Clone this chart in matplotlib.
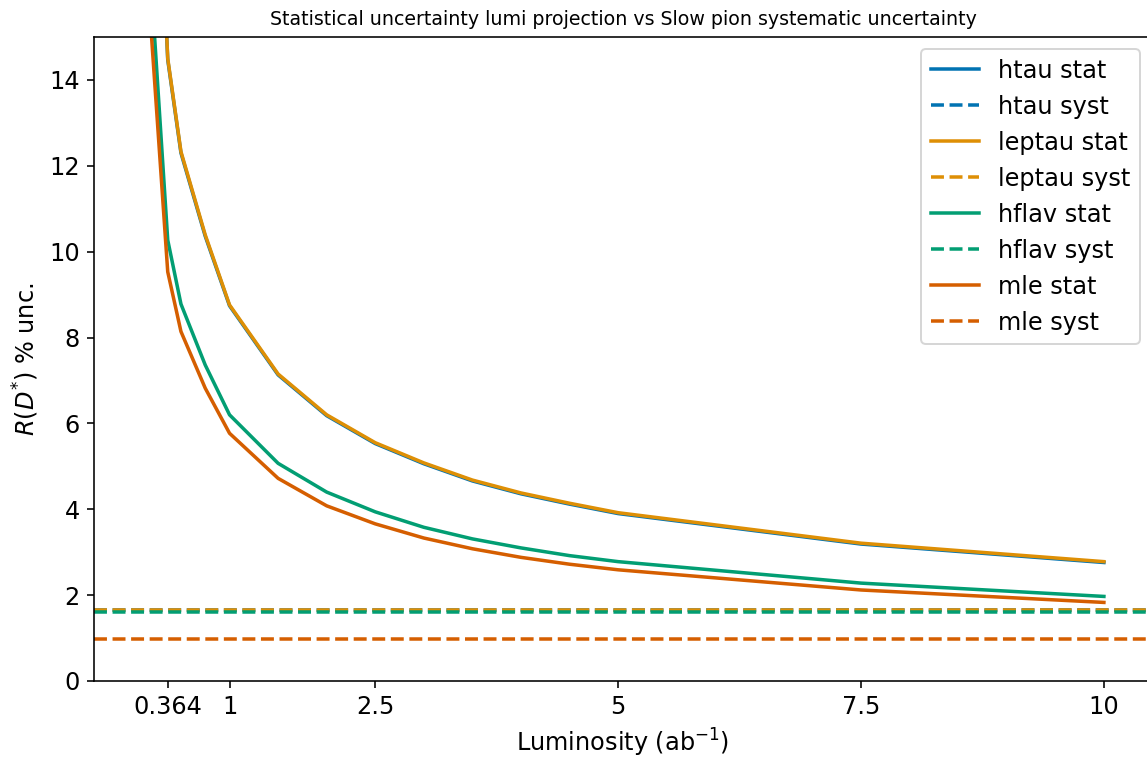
import matplotlib
matplotlib.use("Agg")
import matplotlib.pyplot as plt

# Integrated luminosity points (ab^-1)
lumi = [0.1, 0.364, 0.5, 0.75, 1, 1.5, 2, 2.5, 3, 3.5, 4, 4.5, 5, 7.5, 10]

# Statistical uncertainty on R(D*) in percent for each analysis
htau_stat = [27.6, 14.47, 12.30, 10.36, 8.74, 7.13, 6.18, 5.53, 5.06, 4.66, 4.36, 4.12, 3.90, 3.19, 2.76]
leptau_stat = [27.7, 14.50, 12.33, 10.39, 8.76, 7.15, 6.20, 5.55, 5.08, 4.68, 4.38, 4.14, 3.92, 3.21, 2.78]
hflav_stat = [19.5, 10.27, 8.78, 7.36, 6.20, 5.07, 4.40, 3.94, 3.58, 3.31, 3.10, 2.92, 2.78, 2.28, 1.97]
mle_stat = [18.2, 9.53, 8.14, 6.82, 5.77, 4.72, 4.08, 3.66, 3.33, 3.08, 2.88, 2.72, 2.59, 2.12, 1.83]

# Slow pion systematic uncertainty in percent
htau_syst = 1.66
leptau_syst = 1.66
hflav_syst = 1.60
mle_syst = 0.97

xtick_vals = [0.364, 1, 2.5, 5, 7.5, 10]
xtick_labels = ["0.364", "1", "2.5", "5", "7.5", "10"]

colors = {"htau": "#0173b2", "leptau": "#de8f05", "hflav": "#029e73", "mle": "#d55e00"}

plt.rcParams["font.family"] = ["DejaVu Sans"]
plt.rcParams["font.size"] = 12

dpi = 144
fig = plt.figure(figsize=(1147 / dpi, 759 / dpi), dpi=dpi)
ax = fig.add_axes([94 / 1147, 78 / 759, 1058 / 1147, 644 / 759])

series = [
    ("htau", htau_stat, htau_syst),
    ("leptau", leptau_stat, leptau_syst),
    ("hflav", hflav_stat, hflav_syst),
    ("mle", mle_stat, mle_syst),
]
for name, stat, syst in series:
    c = colors[name]
    ax.plot(lumi, stat, color=c, lw=1.75, label=f"{name} stat")
    ax.axhline(syst, color=c, lw=1.75, ls="--", label=f"{name} syst")

ax.set_xlim(-0.395, 10.495)
ax.set_ylim(0, 15)
ax.set_xticks(xtick_vals)
ax.set_xticklabels(xtick_labels)
ax.set_yticks(range(0, 15, 2))
ax.set_xlabel(r"Luminosity (ab$^{-1}$)")
ax.set_ylabel(r"$R(D^{*})$ % unc.")
ax.set_title("Statistical uncertainty lumi projection vs Slow pion systematic uncertainty", fontsize=9.5)
ax.legend(loc="upper right")

fig.savefig("out.png", dpi=dpi)
